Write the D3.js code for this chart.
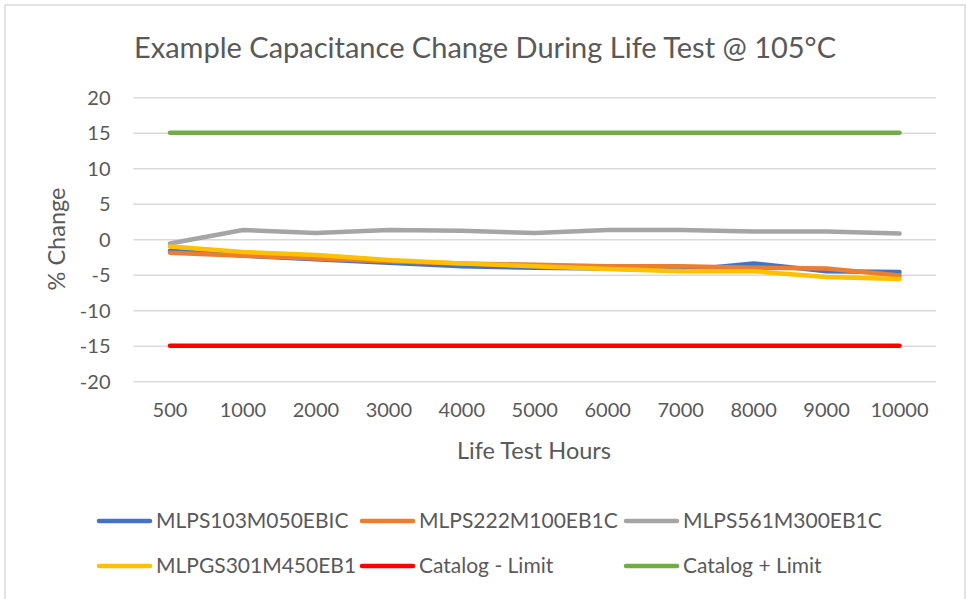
<!DOCTYPE html>
<html><head><meta charset="utf-8">
<script src="https://cdn.jsdelivr.net/npm/d3@7"></script>
<style>
html,body{margin:0;padding:0;background:#fff;}
svg text{font-family:Lato,"Open Sans",sans-serif;fill:#595959;}
</style></head>
<body>
<svg id="chart" width="967" height="599"></svg>
<script>
const categories = ["500","1000","2000","3000","4000","5000","6000","7000","8000","9000","10000"];
const yTicks = [-20,-15,-10,-5,0,5,10,15,20];
const seriesNames = ["MLPS103M050EBIC","MLPS222M100EB1C","MLPS561M300EB1C","MLPGS301M450EB1","Catalog - Limit","Catalog + Limit"];
const seriesColors = ["#4472C4","#ED7D31","#A5A5A5","#FFC000","#FF0000","#70AD47"];
const blueValues   = [-1.6,-2.3,-2.8,-3.3,-3.8,-4.0,-4.1,-4.4,-3.4,-4.5,-4.6];
const orangeValues = [-1.9,-2.3,-2.7,-3.1,-3.4,-3.6,-3.8,-3.8,-4.0,-4.1,-5.1];
const grayValues   = [-0.6,1.3,0.9,1.3,1.2,0.9,1.3,1.3,1.1,1.1,0.8];
const yellowValues = [-1.0,-1.8,-2.2,-2.9,-3.4,-3.8,-4.2,-4.5,-4.5,-5.3,-5.6];
const minusLimit   = [-15,-15,-15,-15,-15,-15,-15,-15,-15,-15,-15];
const plusLimit    = [15,15,15,15,15,15,15,15,15,15,15];
const seriesValues = [blueValues,orangeValues,grayValues,yellowValues,minusLimit,plusLimit];

(function(){
const svg = d3.select("#chart");
svg.append("rect").attr("x",5).attr("y",5).attr("width",960).attr("height",600)
  .attr("fill","#fff").attr("stroke","#d9d9d9").attr("stroke-width",1.5);

const pL = 133.5, pR = 936, pT = 97.3, pB = 381.3;
const x = d3.scaleBand().domain(categories).range([pL,pR]);
const y = d3.scaleLinear().domain([-20,20]).range([pB,pT]);

const yAxis = d3.axisLeft(y).tickValues(yTicks).tickSize(-(pR-pL)).tickPadding(23)
  .tickFormat(d=>String(d));
const gy = svg.append("g").attr("transform",`translate(${pL},0)`).call(yAxis);
gy.select(".domain").remove();
gy.selectAll(".tick line").attr("stroke","#d9d9d9").attr("stroke-width",1.5);
gy.selectAll(".tick text").attr("font-size",20).attr("dy","0.35em");

const xAxis = d3.axisBottom(x).tickSize(0).tickPadding(22);
const gx = svg.append("g").attr("transform",`translate(0,${pB})`).call(xAxis);
gx.select(".domain").remove();
gx.selectAll(".tick text").attr("font-size",20);
gy.selectAll("text").attr("fill","#595959").style("font-family","Lato");
gx.selectAll("text").attr("fill","#595959").style("font-family","Lato");

const line = d3.line().x((d,i)=>x(categories[i])+x.bandwidth()/2).y(d=>y(d));
seriesValues.forEach((vals,k)=>{
  svg.append("path").datum(vals).attr("d",line).attr("fill","none")
    .attr("stroke",seriesColors[k]).attr("stroke-width",4.5)
    .attr("stroke-linecap","round").attr("stroke-linejoin","round");
});

svg.append("text").attr("x",485).attr("y",58).attr("text-anchor","middle")
  .attr("font-size",29).text("Example Capacitance Change During Life Test @ 105°C");
svg.append("text").attr("x",534).attr("y",459).attr("text-anchor","middle")
  .attr("font-size",23.5).text("Life Test Hours");
svg.append("text").attr("transform","translate(65,239) rotate(-90)").attr("text-anchor","middle")
  .attr("font-size",23.5).text("% Change");

const legX = [97,360,624], legY = [521,566];
seriesNames.forEach((name,k)=>{
  const cx = legX[k%3], cy = legY[Math.floor(k/3)];
  svg.append("line").attr("x1",cx+2).attr("x2",cx+53).attr("y1",cy).attr("y2",cy)
    .attr("stroke",seriesColors[k]).attr("stroke-width",4.5).attr("stroke-linecap","round");
  svg.append("text").attr("x",cx+59).attr("y",cy).attr("dy","0.35em")
    .attr("font-size",21).text(name);
});
})();
</script>
</body></html>
